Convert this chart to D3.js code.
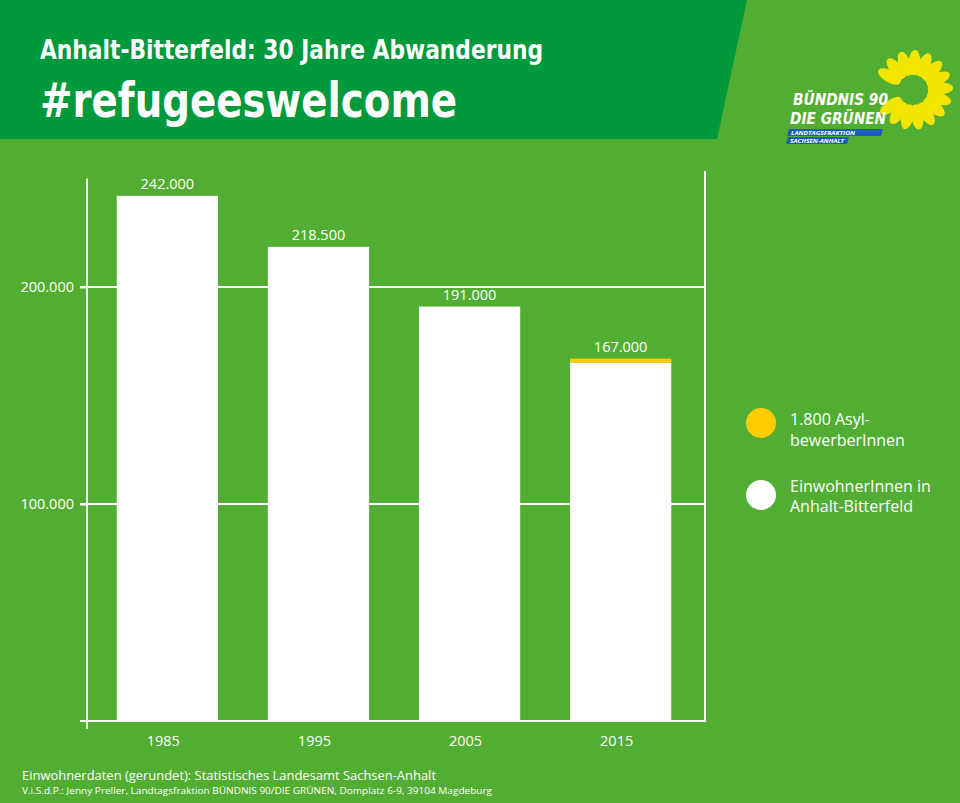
<!DOCTYPE html>
<html>
<head>
<meta charset="utf-8">
<script src="https://cdn.jsdelivr.net/npm/d3@7"></script>
<style>
body { margin: 0; background: #52ae32; }
text { font-family: "Open Sans", "Noto Sans", sans-serif; fill: #fff; }
</style>
</head>
<body>
<svg width="960" height="803"></svg>
<script>
// chart data
var years = ['1985', '1995', '2005', '2015'];
var einwohner = [242000, 218500, 191000, 165200];
var asylbewerber = [0, 0, 0, 1800];
var yTickValues = [100000, 200000];
var legendLabels = [['1.800 Asyl-', 'bewerberInnen'], ['EinwohnerInnen in', 'Anhalt-Bitterfeld']];
var legendColors = ['#ffcc00', '#ffffff'];

var de = d3.formatLocale({decimal: ',', thousands: '.', grouping: [3], currency: ['', ' €']});
var fmt = de.format(',');

var svg = d3.select('svg');
var W = 960, H = 803;

svg.append('rect').attr('width', W).attr('height', H).attr('fill', '#52ae32');

// header band
svg.append('polygon')
    .attr('points', [[0, 0], [747, 0], [717, 139], [0, 139]].join(' '))
    .attr('fill', '#009a3d');

svg.append('text')
    .attr('x', 40).attr('y', 59)
    .attr('textLength', 503).attr('lengthAdjust', 'spacingAndGlyphs')
    .style('font-family', '"DejaVu Sans Condensed", "DejaVu Sans", sans-serif')
    .style('font-weight', 'bold').style('font-size', '27px')
    .text('Anhalt-Bitterfeld: 30 Jahre Abwanderung');

svg.append('text')
    .attr('x', 40).attr('y', 117)
    .attr('textLength', 417).attr('lengthAdjust', 'spacingAndGlyphs')
    .style('font-family', '"DejaVu Sans Condensed", "DejaVu Sans", sans-serif')
    .style('font-weight', 'bold').style('font-size', '48px')
    .text('#refugeeswelcome');

// logo
var logo = svg.append('g');
var fc = [913, 90];
d3.range(-150, 165, 21).forEach(function(a) {
    logo.append('ellipse')
        .attr('cx', 0).attr('cy', -27).attr('rx', 6).attr('ry', 13)
        .attr('transform', 'translate(' + fc + ') rotate(' + (a + 90) + ')')
        .attr('fill', '#f2e500');
});
logo.append('circle').attr('cx', fc[0]).attr('cy', fc[1]).attr('r', 15).attr('fill', '#52ae32');

logo.append('text').attr('x', 793).attr('y', 105)
    .attr('textLength', 95).attr('lengthAdjust', 'spacingAndGlyphs')
    .style('font-family', '"DejaVu Sans Condensed", sans-serif')
    .style('font-weight', 'bold').style('font-style', 'italic').style('font-size', '16px')
    .text('BÜNDNIS 90');
logo.append('text').attr('x', 790).attr('y', 124)
    .attr('textLength', 96).attr('lengthAdjust', 'spacingAndGlyphs')
    .style('font-family', '"DejaVu Sans Condensed", sans-serif')
    .style('font-weight', 'bold').style('font-style', 'italic').style('font-size', '16px')
    .text('DIE GRÜNEN');
logo.append('polygon').attr('points', '789,129 883,129 881,136 787,136').attr('fill', '#1a5fb4');
logo.append('polygon').attr('points', '788,137 849,137 847,144 786,144').attr('fill', '#1a5fb4');
logo.append('text').attr('x', 791).attr('y', 135)
    .attr('textLength', 64).attr('lengthAdjust', 'spacingAndGlyphs')
    .style('font-weight', 'bold').style('font-style', 'italic').style('font-size', '6px')
    .text('LANDTAGSFRAKTION');
logo.append('text').attr('x', 790).attr('y', 143)
    .attr('textLength', 54).attr('lengthAdjust', 'spacingAndGlyphs')
    .style('font-weight', 'bold').style('font-style', 'italic').style('font-size', '6px')
    .text('SACHSEN-ANHALT');

// scales
var x = d3.scaleBand().domain(years).range([85, 703]).paddingInner(0.33).paddingOuter(0.21);
var y = d3.scaleLinear().domain([0, 250000]).range([721, 178.5]);

// gridlines
svg.selectAll('.grid').data(yTickValues).enter().append('line')
    .attr('class', 'grid')
    .attr('x1', 80).attr('x2', 705)
    .attr('y1', function(d) { return y(d); }).attr('y2', function(d) { return y(d); })
    .attr('stroke', '#fff').attr('stroke-width', 2);

// axes lines
svg.append('line').attr('x1', 87).attr('x2', 87).attr('y1', y(250000)).attr('y2', 729)
    .attr('stroke', '#fff').attr('stroke-width', 2);
svg.append('line').attr('x1', 80).attr('x2', 706).attr('y1', y(0)).attr('y2', y(0))
    .attr('stroke', '#fff').attr('stroke-width', 2);
svg.append('line').attr('x1', 705).attr('x2', 705).attr('y1', 171).attr('y2', y(0))
    .attr('stroke', '#fff').attr('stroke-width', 2);

var yAx = svg.append('g').attr('transform', 'translate(87,0)')
    .call(d3.axisLeft(y).tickValues(yTickValues).tickSize(7).tickPadding(6).tickFormat(fmt));
yAx.select('.domain').remove();
yAx.selectAll('line').attr('stroke', '#fff').attr('stroke-width', 2);
yAx.selectAll('text').attr('fill', '#fff')
    .style('font-family', '"Open Sans", sans-serif').style('font-size', '14.5px');

// bars
svg.selectAll('.bar').data(years).enter().append('rect')
    .attr('class', 'bar')
    .attr('x', function(d) { return x(d); })
    .attr('width', x.bandwidth())
    .attr('y', function(d, i) { return y(einwohner[i]); })
    .attr('height', function(d, i) { return y(0) - y(einwohner[i]); })
    .attr('fill', '#fff');

svg.selectAll('.asyl').data(years).enter().append('rect')
    .attr('class', 'asyl')
    .attr('x', function(d) { return x(d); })
    .attr('width', x.bandwidth())
    .attr('y', function(d, i) { return y(einwohner[i] + asylbewerber[i]); })
    .attr('height', function(d, i) { return y(einwohner[i]) - y(einwohner[i] + asylbewerber[i]); })
    .attr('fill', '#ffcc00');

// value labels
svg.selectAll('.val').data(years).enter().append('text')
    .attr('class', 'val')
    .attr('x', function(d) { return x(d) + x.bandwidth() / 2; })
    .attr('y', function(d, i) { return y(einwohner[i] + asylbewerber[i]) - 6.5; })
    .attr('text-anchor', 'middle')
    .style('font-size', '14.5px')
    .text(function(d, i) { return fmt(einwohner[i] + asylbewerber[i]); });

// year labels
svg.selectAll('.yr').data(years).enter().append('text')
    .attr('class', 'yr')
    .attr('x', function(d) { return x(d) + x.bandwidth() / 2 - 4; })
    .attr('y', 746)
    .attr('text-anchor', 'middle')
    .style('font-size', '14.5px')
    .text(function(d) { return d; });

// legend
var leg = svg.selectAll('.leg').data(legendLabels).enter().append('g')
    .attr('class', 'leg')
    .attr('transform', function(d, i) { return 'translate(0,' + (i * 72) + ')'; });
leg.append('circle').attr('cx', 761).attr('cy', 423).attr('r', 15)
    .attr('fill', function(d, i) { return legendColors[i]; });
leg.append('text').attr('x', 790).attr('y', function(d, i) { return i ? 492 - 72 : 425; })
    .style('font-size', '16px').text(function(d) { return d[0]; });
leg.append('text').attr('x', 790).attr('y', function(d, i) { return i ? 512 - 72 : 446; })
    .style('font-size', '16px').text(function(d) { return d[1]; });

// footer
svg.append('text').attr('x', 22).attr('y', 780)
    .attr('textLength', 414).attr('lengthAdjust', 'spacingAndGlyphs')
    .style('font-size', '12px')
    .text('Einwohnerdaten (gerundet): Statistisches Landesamt Sachsen-Anhalt');
svg.append('text').attr('x', 22).attr('y', 794)
    .attr('textLength', 470).attr('lengthAdjust', 'spacingAndGlyphs')
    .style('font-size', '9.5px')
    .text('V.i.S.d.P.: Jenny Preller, Landtagsfraktion BÜNDNIS 90/DIE GRÜNEN, Domplatz 6-9, 39104 Magdeburg');
</script>
</body>
</html>
